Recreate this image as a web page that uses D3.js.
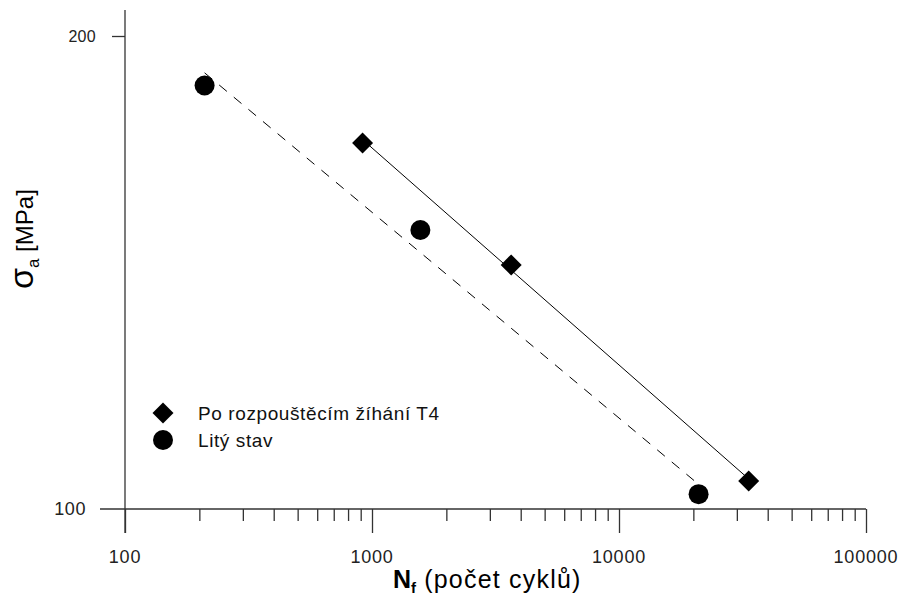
<!DOCTYPE html>
<html>
<head>
<meta charset="utf-8">
<script src="https://cdn.jsdelivr.net/npm/d3@7"></script>
<style>
  body { margin: 0; background: #fff; }
  text { font-family: "Liberation Sans", Arial, sans-serif; }
</style>
</head>
<body>
<div id="chart"></div>
<script>
// cycles to failure and stress amplitude
var t4Cycles = [916, 3660, 33500];
var t4Stress = [171, 143, 104.2];
var castCycles = [210, 1570, 21000];
var castStress = [186, 150.5, 102.2];

var xMajor = [100, 1000, 10000, 100000];
var yMajor = [100, 200];
var legendLabels = ['Po rozpouštěcím žíhání T4', 'Litý stav'];

var width = 903, height = 601;

var svg = d3.select('#chart').append('svg')
    .attr('width', width)
    .attr('height', height);

var x = d3.scaleLog()
    .domain([100, 100000])
    .range([125, 866]);

var y = d3.scaleLog()
    .domain([100, 200])
    .range([509, 36]);

var axisColor = '#333';

// minor ticks between decades
var xMinor = [];
[100, 1000, 10000].forEach(function(d) {
    for (var k = 2; k <= 9; k++) xMinor.push(d * k);
});

svg.append('g')
    .attr('transform', 'translate(0,' + y(100) + ')')
    .call(d3.axisBottom(x).tickValues(xMinor).tickSize(12).tickFormat(''))
    .call(function(g) {
        g.select('.domain').remove();
        g.selectAll('line').attr('stroke', axisColor).attr('stroke-width', 1.3);
    });

svg.append('g')
    .attr('transform', 'translate(0,' + y(100) + ')')
    .call(d3.axisBottom(x).tickValues(xMajor).tickSize(24).tickFormat(''))
    .call(function(g) {
        g.select('.domain').remove();
        g.selectAll('line').attr('stroke', axisColor).attr('stroke-width', 1.3);
    });

// axis lines
svg.append('line')
    .attr('x1', 100).attr('x2', x(100000))
    .attr('y1', y(100)).attr('y2', y(100))
    .attr('stroke', axisColor).attr('stroke-width', 1.3);

svg.append('line')
    .attr('x1', x(100)).attr('x2', x(100))
    .attr('y1', 10).attr('y2', y(100) + 24)
    .attr('stroke', axisColor).attr('stroke-width', 1.3);

svg.append('g')
    .attr('transform', 'translate(' + x(100) + ',0)')
    .call(d3.axisLeft(y).tickValues([200]).tickSize(13).tickFormat(''))
    .call(function(g) {
        g.select('.domain').remove();
        g.selectAll('line').attr('stroke', axisColor).attr('stroke-width', 1.3);
    });

// tick labels
svg.selectAll('.xlab')
    .data(xMajor)
    .enter().append('text')
    .attr('x', function(d) { return x(d); })
    .attr('y', 563)
    .attr('text-anchor', 'middle')
    .attr('font-size', 18)
    .attr('letter-spacing', 0.8)
    .attr('fill', '#222')
    .text(function(d) { return d; });

svg.selectAll('.ylab')
    .data(yMajor)
    .enter().append('text')
    .attr('x', function(d) { return d === 200 ? 96 : 86; })
    .attr('y', function(d) { return y(d) + 6; })
    .attr('text-anchor', 'end')
    .attr('font-size', function(d) { return d === 200 ? 16 : 18; })
    .attr('letter-spacing', function(d) { return d === 200 ? 0.3 : 0.6; })
    .attr('fill', '#222')
    .text(function(d) { return d; });

// axis titles
var xt = svg.append('text')
    .attr('x', 393)
    .attr('y', 588)
    .attr('fill', '#000');
xt.append('tspan').attr('font-size', 25).attr('font-weight', 'bold').text('N');
xt.append('tspan').attr('font-size', 15).attr('font-weight', 'bold').attr('dy', 5).text('f');
xt.append('tspan').attr('font-size', 25).attr('letter-spacing', 1.2).attr('dy', -5).text(' (počet cyklů)');

var yt = svg.append('text')
    .attr('transform', 'translate(33,289) rotate(-90)')
    .attr('fill', '#000');
yt.append('tspan').attr('font-size', 34).text('σ');
yt.append('tspan').attr('font-size', 17).attr('dy', 6).text('a');
yt.append('tspan').attr('font-size', 24).attr('dy', -6).text(' [MPa]');

// log-log least squares fit line
function fitLine(xs, ys) {
    var lx = xs.map(Math.log10), ly = ys.map(Math.log10);
    var mx = d3.mean(lx), my = d3.mean(ly);
    var sxy = d3.sum(lx, function(v, i) { return (v - mx) * (ly[i] - my); });
    var sxx = d3.sum(lx, function(v) { return (v - mx) * (v - mx); });
    var b = sxy / sxx;
    var ext = d3.extent(xs);
    return ext.map(function(v) {
        return [v, Math.pow(10, my + b * (Math.log10(v) - mx))];
    });
}

var line = d3.line()
    .x(function(d) { return x(d[0]); })
    .y(function(d) { return y(d[1]); });

svg.append('path')
    .attr('d', line(fitLine(castCycles, castStress)))
    .attr('fill', 'none')
    .attr('stroke', '#000')
    .attr('stroke-width', 1)
    .attr('stroke-dasharray', '10,9');

svg.append('path')
    .attr('d', line(fitLine(t4Cycles, t4Stress)))
    .attr('fill', 'none')
    .attr('stroke', '#000')
    .attr('stroke-width', 1);

// markers
var diamond = d3.symbol().type(d3.symbolSquare).size(220);

svg.selectAll('.t4')
    .data(t4Cycles)
    .enter().append('path')
    .attr('d', diamond)
    .attr('transform', function(d, i) {
        return 'translate(' + x(d) + ',' + y(t4Stress[i]) + ') rotate(45)';
    })
    .attr('fill', '#000');

svg.selectAll('.cast')
    .data(castCycles)
    .enter().append('circle')
    .attr('cx', function(d) { return x(d); })
    .attr('cy', function(d, i) { return y(castStress[i]); })
    .attr('r', 10)
    .attr('fill', '#000');

// legend
var legend = svg.append('g');
legend.append('path')
    .attr('d', diamond)
    .attr('transform', 'translate(163,413) rotate(45)')
    .attr('fill', '#000');
legend.append('circle')
    .attr('cx', 163).attr('cy', 440).attr('r', 10)
    .attr('fill', '#000');
legend.selectAll('.lt')
    .data(legendLabels)
    .enter().append('text')
    .attr('x', 198)
    .attr('y', function(d, i) { return 420 + i * 27; })
    .attr('font-size', 19)
    .attr('letter-spacing', 0.6)
    .attr('fill', '#111')
    .text(function(d) { return d; });
</script>
</body>
</html>
